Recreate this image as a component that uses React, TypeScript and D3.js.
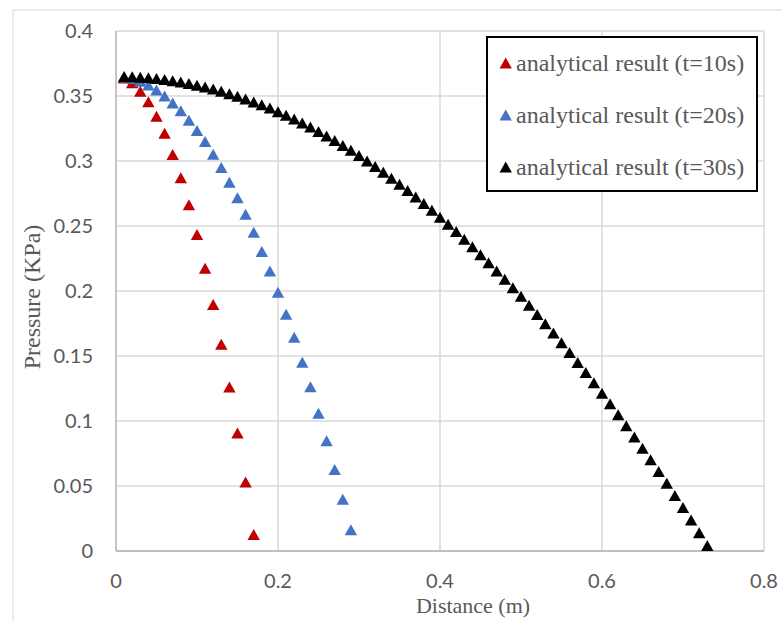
import React from "react";
import * as d3 from "d3";

// ---- Data ----
const xRed = [0.01, 0.02, 0.03, 0.04, 0.05, 0.06, 0.07, 0.08, 0.09, 0.10, 0.11, 0.12, 0.13, 0.14, 0.15, 0.16, 0.17];
const yRed = [0.3638, 0.3601, 0.3535, 0.3455, 0.3343, 0.3212, 0.3050, 0.2870, 0.2662, 0.2433, 0.2175, 0.1895, 0.1589, 0.1261, 0.0907, 0.0530, 0.0126];

const xBlue = [0.01, 0.02, 0.03, 0.04, 0.05, 0.06, 0.07, 0.08, 0.09, 0.10, 0.11, 0.12, 0.13, 0.14, 0.15, 0.16, 0.17, 0.18, 0.19, 0.20, 0.21, 0.22, 0.23, 0.24, 0.25, 0.26, 0.27, 0.28, 0.29];
const yBlue = [0.3646, 0.3633, 0.3613, 0.3584, 0.3546, 0.3499, 0.3446, 0.3385, 0.3312, 0.3234, 0.3149, 0.3052, 0.2949, 0.2835, 0.2717, 0.2589, 0.2451, 0.2304, 0.2153, 0.1990, 0.1821, 0.1643, 0.1452, 0.1262, 0.1058, 0.0847, 0.0627, 0.0398, 0.0162];

const xBlack = [0.01, 0.02, 0.03, 0.04, 0.05, 0.06, 0.07, 0.08, 0.09, 0.10, 0.11, 0.12, 0.13, 0.14, 0.15, 0.16, 0.17, 0.18, 0.19, 0.20, 0.21, 0.22, 0.23, 0.24, 0.25, 0.26, 0.27, 0.28, 0.29, 0.30, 0.31, 0.32, 0.33, 0.34, 0.35, 0.36, 0.37, 0.38, 0.39, 0.40, 0.41, 0.42, 0.43, 0.44, 0.45, 0.46, 0.47, 0.48, 0.49, 0.50, 0.51, 0.52, 0.53, 0.54, 0.55, 0.56, 0.57, 0.58, 0.59, 0.60, 0.61, 0.62, 0.63, 0.64, 0.65, 0.66, 0.67, 0.68, 0.69, 0.70, 0.71, 0.72, 0.73];
const yBlack = [0.3649, 0.3647, 0.3644, 0.3639, 0.3633, 0.3626, 0.3617, 0.3607, 0.3595, 0.3582, 0.3568, 0.3553, 0.3536, 0.3517, 0.3498, 0.3477, 0.3454, 0.3431, 0.3406, 0.3379, 0.3351, 0.3322, 0.3292, 0.3260, 0.3227, 0.3192, 0.3156, 0.3119, 0.3081, 0.3041, 0.2999, 0.2957, 0.2913, 0.2867, 0.2821, 0.2773, 0.2723, 0.2672, 0.2620, 0.2567, 0.2512, 0.2456, 0.2398, 0.2339, 0.2279, 0.2217, 0.2154, 0.2090, 0.2025, 0.1958, 0.1889, 0.1819, 0.1748, 0.1676, 0.1602, 0.1527, 0.1450, 0.1373, 0.1293, 0.1213, 0.1131, 0.1048, 0.0963, 0.0877, 0.0790, 0.0701, 0.0611, 0.0520, 0.0427, 0.0333, 0.0237, 0.0140, 0.0042];

const seriesNames = ["analytical result (t=10s)", "analytical result (t=20s)", "analytical result (t=30s)"];
const seriesColors = ["#C00000", "#4472C4", "#000000"];

const xTicks = [0, 0.2, 0.4, 0.6, 0.8];
const yTicks = [0, 0.05, 0.1, 0.15, 0.2, 0.25, 0.3, 0.35, 0.4];

const xTitle = "Distance (m)";
const yTitle = "Pressure (KPa)";

// ---- Layout ----
const W = 782;
const H = 621;
const plot = { left: 116, right: 764, top: 31, bottom: 551 };

const TRI = "M0,-5.6L6.2,5.4L-6.2,5.4Z";

export default function App() {
  const x = d3.scaleLinear().domain([0, 0.8]).range([plot.left, plot.right]);
  const y = d3.scaleLinear().domain([0, 0.4]).range([plot.bottom, plot.top]);

  const series = [
    { xs: xRed, ys: yRed },
    { xs: xBlue, ys: yBlue },
    { xs: xBlack, ys: yBlack },
  ];

  const tickFont = "Lato, 'Open Sans', sans-serif";
  const serif = "'Liberation Serif', 'Times New Roman', serif";
  const grey = "#595959";

  const legend = { x0: 487, y0: 37, x1: 757, y1: 191 };
  const legendRows = [63, 115, 167];

  return (
    <svg width={W} height={H} style={{ position: "absolute", left: 0, top: 0, background: "#fff" }}>
      <rect x={0} y={0} width={W} height={H} fill="#fff" />
      {/* outer chart frame (left & top visible) */}
      <line x1={13} y1={10} x2={13} y2={H} stroke="#D9D9D9" strokeWidth={1} />
      <line x1={13} y1={10} x2={W} y2={10} stroke="#D9D9D9" strokeWidth={1} />

      {/* horizontal gridlines */}
      {yTicks.filter((t) => t > 0).map((t) => (
        <line key={"hy" + t} x1={plot.left} x2={plot.right} y1={y(t)} y2={y(t)} stroke="#D9D9D9" strokeWidth={1.5} />
      ))}
      {/* vertical gridlines */}
      {xTicks.filter((t) => t > 0).map((t) => (
        <line key={"vx" + t} x1={x(t)} x2={x(t)} y1={plot.top} y2={plot.bottom} stroke="#D9D9D9" strokeWidth={1.5} />
      ))}
      {/* axes */}
      <line x1={plot.left} x2={plot.left} y1={plot.top} y2={plot.bottom} stroke="#BFBFBF" strokeWidth={1.8} />
      <line x1={plot.left} x2={plot.right} y1={plot.bottom} y2={plot.bottom} stroke="#BFBFBF" strokeWidth={1.8} />

      {/* y tick labels */}
      {yTicks.map((t) => (
        <text key={"yt" + t} x={93} y={y(t)} dy="0.35em" textAnchor="end" fontFamily={tickFont} fontSize={20} fill={grey}>
          {d3.format("~g")(t)}
        </text>
      ))}
      {/* x tick labels */}
      {xTicks.map((t) => (
        <text key={"xt" + t} x={x(t)} y={581} dy="0.35em" textAnchor="middle" fontFamily={tickFont} fontSize={20} fill={grey}>
          {d3.format("~g")(t)}
        </text>
      ))}

      {/* axis titles */}
      <text x={473} y={613} textAnchor="middle" fontFamily={serif} fontSize={22} fill={grey}>
        {xTitle}
      </text>
      <text transform={`translate(40,297) rotate(-90)`} textAnchor="middle" fontFamily={serif} fontSize={24} fill={grey}>
        {yTitle}
      </text>

      {/* series */}
      {series.map((s, i) => (
        <g key={"s" + i} fill={seriesColors[i]}>
          {s.xs.map((xv, j) => (
            <path key={j} d={TRI} transform={`translate(${x(xv)},${y(s.ys[j])})`} />
          ))}
        </g>
      ))}

      {/* legend */}
      <rect x={legend.x0} y={legend.y0} width={legend.x1 - legend.x0} height={legend.y1 - legend.y0} fill="#fff" stroke="#000" strokeWidth={2} />
      {seriesNames.map((n, i) => (
        <g key={"lg" + i}>
          <path d={TRI} transform={`translate(505.7,${legendRows[i]})`} fill={seriesColors[i]} />
          <text x={516} y={legendRows[i]} dy="0.33em" fontFamily={serif} fontSize={24} fill={grey}>
            {n}
          </text>
        </g>
      ))}
    </svg>
  );
}
